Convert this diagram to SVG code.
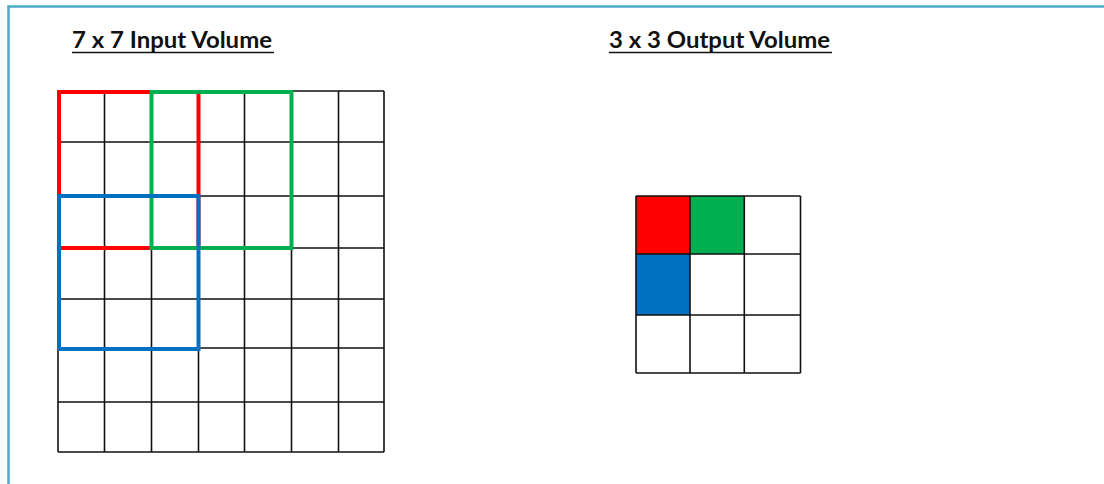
<svg xmlns="http://www.w3.org/2000/svg" width="1104" height="484" viewBox="0 0 1104 484">
  <style>
    .title { font-family: Lato, "Open Sans", "Liberation Sans", sans-serif; font-weight: bold; font-size: 22px; fill: #111; }
    .ul { stroke: #111; stroke-width: 1.6; }
    .grid { fill: none; stroke: #111; stroke-width: 1.6; }
    .win { fill: none; stroke-width: 4; stroke-linejoin: miter; stroke-linecap: square; }
    .red { stroke: #FF0000; }
    .green { stroke: #00B050; }
    .blue { stroke: #0070C0; }
  </style>

  <!-- page frame -->
  <rect x="0" y="0" width="1104" height="484" fill="#ffffff"/>
  <path d="M8.5 484 V6.5 H1104" fill="none" stroke="#4BACC6" stroke-width="2.5"/>

  <!-- titles -->
  <g id="title-input">
    <text class="title" x="72" y="47.5" textLength="200" lengthAdjust="spacingAndGlyphs">7 x 7 Input Volume</text>
    <line class="ul" x1="72" y1="52.5" x2="274" y2="52.5"/>
  </g>
  <g id="title-output">
    <text class="title" x="609" y="47.5" textLength="221" lengthAdjust="spacingAndGlyphs">3 x 3 Output Volume</text>
    <line class="ul" x1="609" y1="52.5" x2="832" y2="52.5"/>
  </g>

  <!-- 7x7 input grid -->
  <g id="input-grid">
    <path class="grid" d="
      M58 91 H384 M58 142 H384 M58 196 H384 M58 248 H384 M58 299 H384 M58 348 H384 M58 402 H384 M58 452 H384
      M58 91 V452 M104.5 91 V452 M151.5 91 V452 M198.5 91 V452 M244.5 91 V452 M291.5 91 V452 M338.5 91 V452 M384 91 V452"/>
  </g>

  <!-- 3x3 filter windows -->
  <g id="windows">
    <rect id="win-red" class="win red" x="59" y="92" width="139.5" height="156"/>
    <rect id="win-green" class="win green" x="151.5" y="92" width="140" height="156"/>
    <rect id="win-blue" class="win blue" x="59" y="196" width="139.5" height="153"/>
  </g>

  <!-- 3x3 output grid -->
  <g id="output-grid">
    <rect x="636" y="196" width="54" height="58" fill="#FF0000"/>
    <rect x="690" y="196" width="54.3" height="58" fill="#00B050"/>
    <rect x="636" y="254" width="54" height="61" fill="#0070C0"/>
    <path class="grid" d="
      M636 196 H800.5 M636 254 H800.5 M636 315 H800.5 M636 373 H800.5
      M636 196 V373 M690 196 V373 M744.3 196 V373 M800.5 196 V373"/>
  </g>
</svg>
